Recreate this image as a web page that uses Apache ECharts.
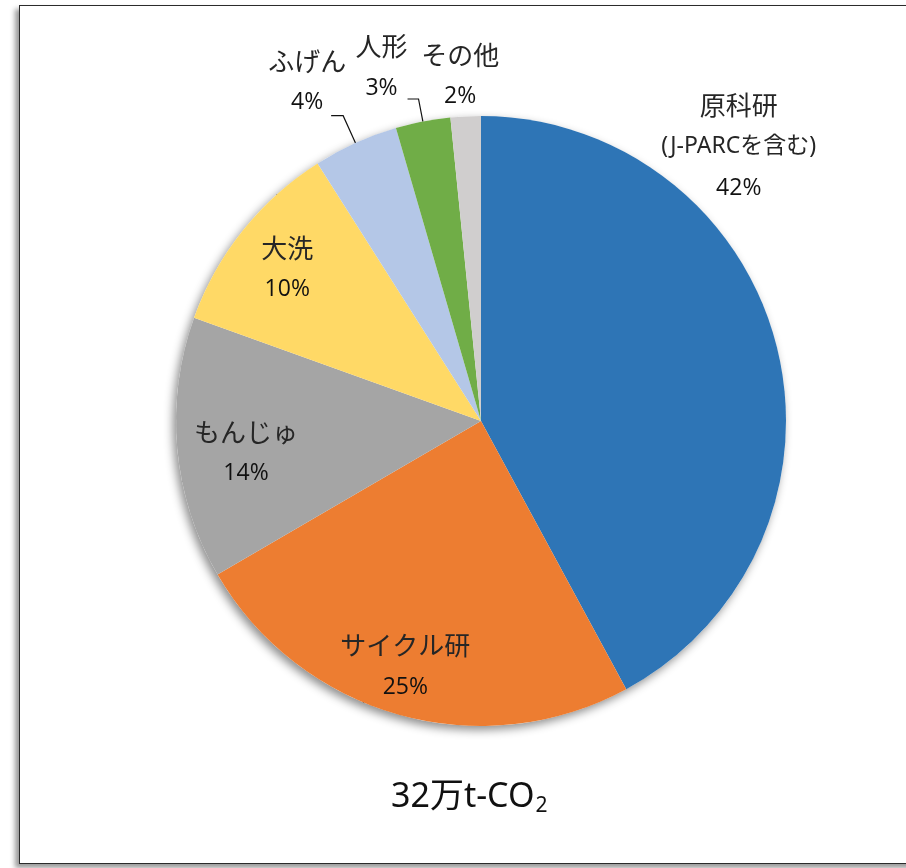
<!DOCTYPE html>
<html>
<head>
<meta charset="utf-8">
<title>CO2排出量 拠点別内訳</title>
<script src="https://cdn.jsdelivr.net/npm/echarts@6/dist/echarts.min.js"></script>
<style>
html, body { margin: 0; padding: 0; width: 906px; height: 868px; overflow: hidden; background: #fff; }
#frame {
	position: absolute; left: 19px; top: 5px; width: 920px; height: 859px;
	box-sizing: border-box; border: 1.5px solid #2b2b2b;
	box-shadow: -4px 4px 5px rgba(0, 0, 0, 0.4);
}
#main { position: absolute; left: 0; top: 0; width: 906px; height: 868px; }
</style>
</head>
<body>
<div id="frame"></div>
<div id="main"></div>
<script>
// 拠点名（改行はラベルの折り返し）
var names = ['原科研\n(J-PARCを含む)', 'サイクル研', 'もんじゅ', '大洗', 'ふげん', '人形', 'その他'];
// 構成比（%）
var values = [42.1, 24.5, 13.9, 10.5, 4.5, 2.9, 1.6];
var colors = ['#2E75B6', '#ED7D31', '#A5A5A5', '#FFD966', '#B4C7E7', '#70AD47', '#D0CECE'];
// 合計の表記
var totalMain = '32万t-CO';
var totalSub = '2';

var R = 305;
var CENTER = [481, 421];

var total = 0;
for (var i = 0; i < values.length; i++) total += values[i];

// 扇形の中心角（上から時計回り、ラジアン）
function midAngle(idx) {
	var before = 0;
	for (var j = 0; j < idx; j++) before += values[j];
	return (before + values[idx] / 2) / total * Math.PI * 2;
}

// 外側ラベルの設定と位置の補正
var outer = {
	0: { len: 10, len2: 0, line: false, shift: [-130, -196] },
	4: { len: 30, len2: 12, line: true, shift: [20, -33] },
	5: { len: 23, len2: 11, line: true, shift: [5, -31] },
	6: { len: 10, len2: 0, line: false, shift: [39, -30] }
};
// 内側ラベルの微調整
var innerTweak = { 1: [-9, 8], 2: [11, 10], 3: [-1, 3] };

var data = names.map(function(n, idx) {
	var item = { name: n, value: values[idx], itemStyle: { color: colors[idx] } };
	var o = outer[idx];
	if (o) {
		item.label = { position: 'outside' };
		item.labelLine = { show: o.line, length: o.len, length2: o.len2 };
	}
	return item;
});

var myChart = echarts.init(document.getElementById('main'));
myChart.setOption({
	animation: false,
	title: {
		text: '{a|' + totalMain + '}{b|' + totalSub + '}',
		left: 386,
		top: 769,
		textStyle: {
			fontWeight: 'normal',
			rich: {
				a: { fontFamily: '"Noto Sans", "Noto Sans CJK JP"', fontSize: 34, fontWeight: 'normal', lineHeight: 46, color: '#111' },
				b: { fontFamily: '"Noto Sans"', fontSize: 21, fontWeight: 'normal', lineHeight: 22, color: '#111', padding: [18, 0, 0, 1] }
			}
		}
	},
	series: [{
		// 影だけの円
		type: 'pie',
		z: 1,
		silent: true,
		center: CENTER,
		radius: R,
		label: { show: false },
		labelLine: { show: false },
		itemStyle: {
			color: '#fff',
			shadowBlur: 10,
			shadowOffsetX: -3,
			shadowOffsetY: 4,
			shadowColor: 'rgba(0, 0, 0, 0.45)'
		},
		data: [{ name: '', value: total }]
	}, {
		type: 'pie',
		z: 2,
		center: CENTER,
		radius: R,
		startAngle: 90,
		clockwise: true,
		avoidLabelOverlap: false,
		percentPrecision: 0,
		emphasis: { scale: false },
		itemStyle: { borderWidth: 0 },
		label: {
			position: 'inside',
			overflow: 'none',
			color: '#262626',
			formatter: function(p) {
				var lines = p.name.split('\n');
				var s = '{n|' + lines[0] + '}';
				for (var k = 1; k < lines.length; k++) s += '\n{s|' + lines[k] + '}';
				return s + '\n{p|' + p.percent + '%}';
			},
			rich: {
				n: { fontFamily: '"Noto Sans CJK JP"', fontSize: 26, lineHeight: 42, color: '#262626', align: 'center' },
				s: { fontFamily: '"Noto Sans", "Noto Sans CJK JP"', fontSize: 23, lineHeight: 42, color: '#262626', align: 'center' },
				p: { fontFamily: '"Open Sans", "Noto Sans"', fontSize: 23, fontWeight: 500, lineHeight: 42, color: '#111', align: 'center' }
			}
		},
		labelLine: {
			lineStyle: { color: '#111', width: 1.2 }
		},
		labelLayout: function(p) {
			var idx = p.dataIndex;
			var s;
			if (outer[idx]) {
				s = outer[idx].shift;
			} else {
				var a = midAngle(idx);
				var t = innerTweak[idx] || [0, 0];
				s = [0.3 * R * Math.sin(a) + t[0], -0.3 * R * Math.cos(a) + t[1]];
			}
			return {
				x: p.labelRect.x + p.labelRect.width / 2 + s[0],
				y: p.labelRect.y + p.labelRect.height / 2 + s[1],
				align: 'center',
				verticalAlign: 'middle',
				labelLinePoints: p.labelLinePoints
			};
		},
		data: data
	}]
});
</script>
</body>
</html>
